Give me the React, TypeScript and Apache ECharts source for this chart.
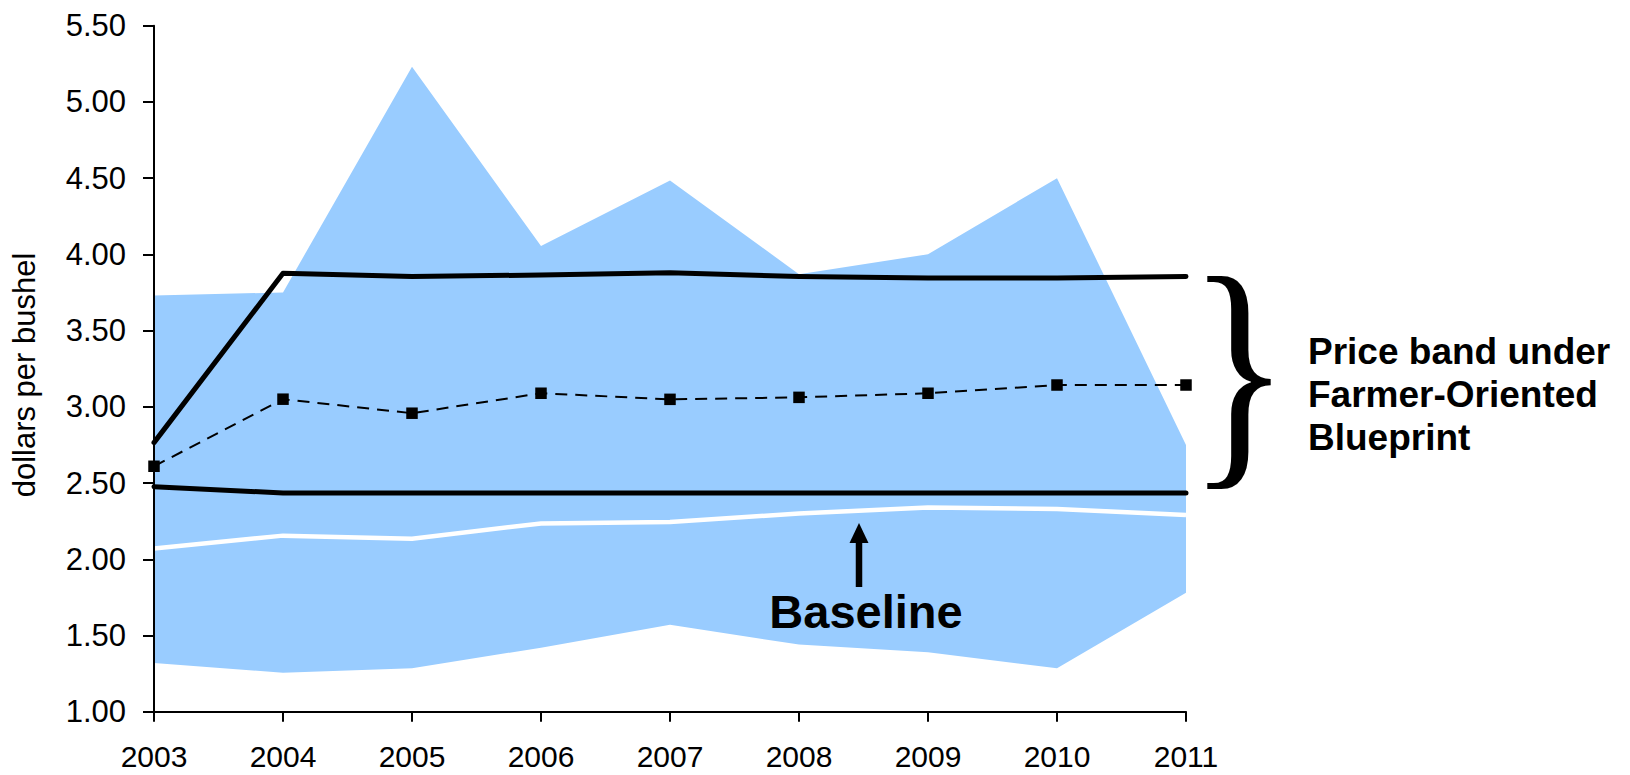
import React, { useEffect, useRef } from "react";
import * as echarts from "echarts";

const years = ["2003", "2004", "2005", "2006", "2007", "2008", "2009", "2010", "2011"];
const rangeLow = [1.32, 1.255, 1.285, 1.42, 1.57, 1.44, 1.39, 1.285, 1.78];
const rangeHigh = [3.73, 3.75, 5.23, 4.055, 4.485, 3.87, 4.0, 4.5, 2.75];
const baselinePrice = [2.07, 2.155, 2.135, 2.235, 2.245, 2.3, 2.34, 2.33, 2.29];
const bandUpper = [2.765, 3.876, 3.854, 3.865, 3.88, 3.855, 3.845, 3.845, 3.855];
const bandLower = [2.476, 2.435, 2.435, 2.435, 2.435, 2.435, 2.435, 2.435, 2.435];
const blueprintPrice = [2.61, 3.05, 2.958, 3.089, 3.049, 3.062, 3.089, 3.143, 3.143];
const yTicks = { min: 1, max: 5.5, interval: 0.5 };
const yTitle = "dollars per bushel";
const bandLabel = "Price band under\nFarmer-Oriented\nBlueprint";
const baselineLabel = "Baseline";

const SANS = '"Liberation Sans", Arial, sans-serif';

export default function App() {
  const ref = useRef<HTMLDivElement>(null);
  useEffect(() => {
    if (!ref.current) return;
    const chart = echarts.init(ref.current, undefined, { renderer: "svg" });
    const rangeSpan = rangeHigh.map((v, i) => +(v - rangeLow[i]).toFixed(4));
    chart.setOption({
      animation: false,
      backgroundColor: "#ffffff",
      grid: { left: 154, right: 444, top: 25.7, bottom: 63.3, containLabel: false },
      xAxis: {
        type: "category",
        data: years,
        boundaryGap: false,
        z: 10,
        axisLine: { show: true, lineStyle: { color: "#000", width: 2 } },
        axisTick: { show: true, inside: false, length: 10, alignWithLabel: true, lineStyle: { color: "#000", width: 2 } },
        axisLabel: { color: "#000", fontSize: 30, lineHeight: 30, fontFamily: SANS, margin: 30 },
        splitLine: { show: false },
      },
      yAxis: {
        type: "value",
        min: yTicks.min,
        max: yTicks.max,
        interval: yTicks.interval,
        z: 10,
        axisLine: { show: true, lineStyle: { color: "#000", width: 2 } },
        axisTick: { show: true, inside: false, length: 11, lineStyle: { color: "#000", width: 2 } },
        axisLabel: {
          color: "#000",
          fontSize: 31,
          fontFamily: SANS,
          margin: 28,
          formatter: (v: number) => v.toFixed(2),
        },
        splitLine: { show: false },
      },
      series: [
        {
          name: "range low",
          type: "line",
          data: rangeLow,
          stack: "range",
          symbol: "none",
          silent: true,
          lineStyle: { width: 0, opacity: 0 },
          z: 1,
        },
        {
          name: "range",
          type: "line",
          data: rangeSpan,
          stack: "range",
          symbol: "none",
          silent: true,
          lineStyle: { width: 0, opacity: 0 },
          areaStyle: { color: "#99CCFF", opacity: 1 },
          z: 1,
        },
        {
          name: "Baseline",
          type: "line",
          data: baselinePrice,
          symbol: "none",
          silent: true,
          lineStyle: { color: "#ffffff", width: 4.5 },
          z: 3,
        },
        {
          name: "Band upper",
          type: "line",
          data: bandUpper,
          symbol: "none",
          silent: true,
          lineStyle: { color: "#000", width: 5, cap: "round", join: "round" },
          z: 4,
        },
        {
          name: "Band lower",
          type: "line",
          data: bandLower,
          symbol: "none",
          silent: true,
          lineStyle: { color: "#000", width: 5, cap: "round", join: "round" },
          z: 4,
        },
        {
          name: "Blueprint",
          type: "line",
          data: blueprintPrice,
          symbol: "rect",
          symbolSize: 11.5,
          silent: true,
          itemStyle: { color: "#000" },
          lineStyle: { color: "#000", width: 2, type: [12, 8] },
          z: 5,
        },
      ],
      graphic: [
        {
          type: "text",
          x: 24,
          y: 375,
          rotation: Math.PI / 2,
          style: {
            text: yTitle,
            fontSize: 31,
            fontFamily: SANS,
            fill: "#000",
            align: "center",
            verticalAlign: "middle",
          },
        },
        {
          type: "text",
          x: 1188,
          y: 368,
          scaleX: 0.83,
          style: {
            text: "}",
            fontSize: 256,
            fontFamily: '"Liberation Serif", "Times New Roman", serif',
            fill: "#000",
            align: "left",
            verticalAlign: "middle",
          },
        },
        {
          type: "text",
          x: 1308,
          y: 330,
          style: {
            text: bandLabel,
            fontSize: 37,
            fontWeight: "bold",
            lineHeight: 43,
            fontFamily: SANS,
            fill: "#000",
            align: "left",
            verticalAlign: "top",
          },
        },
        {
          type: "text",
          x: 866,
          y: 611,
          z: 20,
          style: {
            text: baselineLabel,
            fontSize: 47,
            fontWeight: "bold",
            fontFamily: SANS,
            fill: "#000",
            align: "center",
            verticalAlign: "middle",
          },
        },
        {
          type: "line",
          z: 20,
          shape: { x1: 859, y1: 587, x2: 859, y2: 540 },
          style: { stroke: "#000", lineWidth: 6.5 },
        },
        {
          type: "polygon",
          z: 20,
          shape: { points: [[849.5, 543], [868.5, 543], [859, 523]] },
          style: { fill: "#000" },
        },
      ],
    });
    return () => chart.dispose();
  }, []);
  return (
    <div
      ref={ref}
      style={{ position: "fixed", left: 0, top: 0, width: 1630, height: 775, background: "#fff" }}
    />
  );
}
